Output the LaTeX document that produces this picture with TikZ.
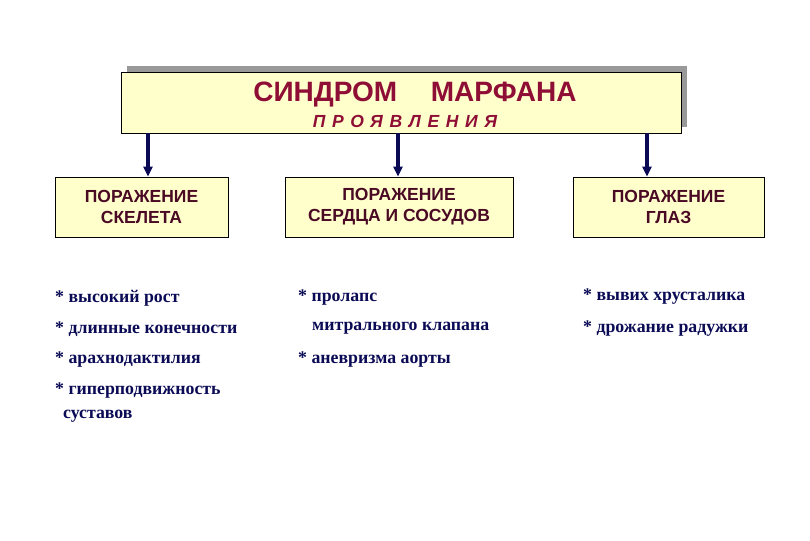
\documentclass[tikz,border=0pt]{standalone}
\usepackage{fontspec}
\setmainfont{Liberation Serif}
\setsansfont{Liberation Sans}
\newfontfamily\spacedsans[LetterSpace=38]{Liberation Sans}
\usetikzlibrary{arrows.meta,shadows}
\definecolor{boxfill}{HTML}{FFFFCC}
\definecolor{titlered}{HTML}{8E0E36}
\definecolor{headtext}{HTML}{4A0A24}
\definecolor{navy}{HTML}{0A0A55}
\definecolor{shadowgray}{HTML}{999999}

\tikzset{
  mainbox/.style={draw=black, fill=boxfill, line width=0.8pt,
    drop shadow={shadow xshift=6pt, shadow yshift=6pt, fill=shadowgray, opacity=1}},
  partbox/.style={draw=black, fill=boxfill, line width=0.8pt, minimum height=60pt,
    align=center, text=headtext, font=\sffamily\bfseries\fontsize{17.5}{21}\selectfont},
  arr/.style={draw=navy, line width=3.2pt, -{Triangle[length=10pt,width=9pt]}},
  item/.style={anchor=base west, inner sep=0pt, text=navy, font=\bfseries\fontsize{17.8}{20}\selectfont}
}

\begin{document}
\begin{tikzpicture}[x=1pt,y=-1pt]
	\useasboundingbox (0,0) rectangle (810,540);
	% title block
	\node[mainbox, minimum width=560pt, minimum height=61pt] (main) at (401,102.5) {};
	\node[text=titlered, font=\sffamily\bfseries\fontsize{28}{30}\selectfont] (title) at (415,95) {СИНДРОМ\hspace{1.2em}МАРФАНА};
	\node[text=titlered, font=\spacedsans\bfseries\itshape\fontsize{17.5}{18}\selectfont] (sub) at (405,121) {ПРОЯВЛЕНИЯ};
	% three groups
	\node[partbox, minimum width=173pt] (skel) at (141.5,207) {ПОРАЖЕНИЕ\\СКЕЛЕТА};
	\node[partbox, minimum width=228pt] (heart) at (399,207) {ПОРАЖЕНИЕ\\СЕРДЦА И СОСУДОВ};
	\node[partbox, minimum width=191pt] (eyes) at (668.5,207) {ПОРАЖЕНИЕ\\ГЛАЗ\hspace*{0pt}};
	\coordinate (a1) at (148,133);
	\coordinate (a2) at (398,133);
	\coordinate (a3) at (647,133);
	\draw[arr] (a1) -- (a1 |- skel.north);
	\draw[arr] (a2) -- (a2 |- heart.north);
	\draw[arr] (a3) -- (a3 |- eyes.north);
	% lists
	\node[item] (s1) at (55,302) {* высокий рост};
	\node[item] (s2) at (55,333) {* длинные конечности};
	\node[item] (s3) at (55,363) {* арахнодактилия};
	\node[item] (s4) at (55,394) {* гиперподвижность};
	\node[item] (s5) at (63,418) {суставов};
	\node[item] (h1) at (298,301) {* пролапс};
	\node[item] (h2) at (312,330) {митрального клапана};
	\node[item] (h3) at (298,363) {* аневризма аорты};
	\node[item] (e1) at (583,300) {* вывих хрусталика};
	\node[item] (e2) at (583,332) {* дрожание радужки};
\end{tikzpicture}
\end{document}
